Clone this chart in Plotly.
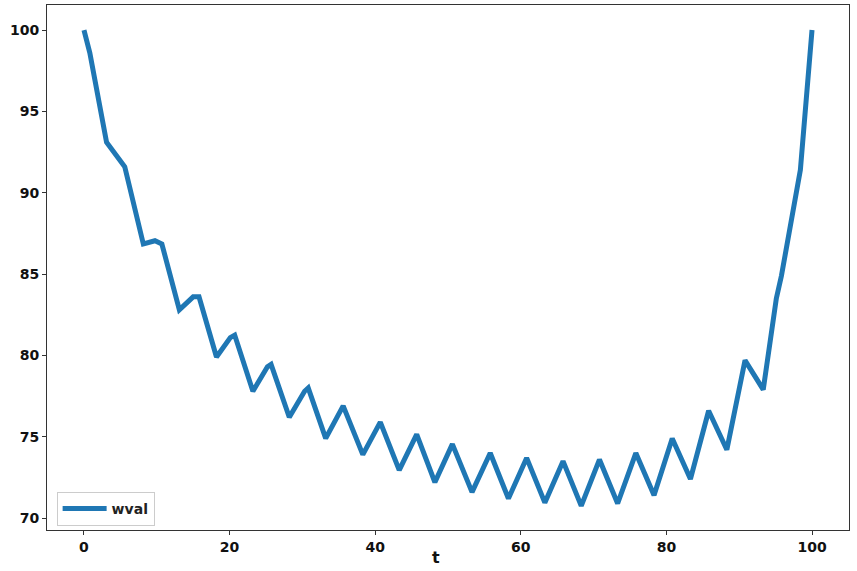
import plotly.graph_objects as go

t = [0, 0.8, 3.1, 5.6, 8.15, 9.75, 10.7, 13.1, 15.0, 15.8, 18.2, 20.1, 20.7,
     23.2, 25.2, 25.7, 28.2, 30.3, 30.8, 33.2, 35.6, 38.3, 40.7, 43.3, 45.7,
     48.2, 50.6, 53.3, 55.8, 58.3, 60.8, 63.3, 65.8, 68.3, 70.8, 73.3, 75.8,
     78.3, 80.8, 83.3, 85.8, 88.3, 90.8, 93.3, 95.1, 95.8, 98.4, 100]
wval = [100, 98.6, 93.1, 91.6, 86.85, 87.05, 86.85, 82.8, 83.6, 83.6, 79.9, 81.1, 81.25,
        77.8, 79.3, 79.45, 76.2, 77.8, 78.0, 74.9, 76.9, 73.9, 75.9, 72.95, 75.15,
        72.2, 74.55, 71.6, 74.0, 71.2, 73.7, 70.95, 73.5, 70.75, 73.6, 70.9, 74.0,
        71.4, 74.9, 72.4, 76.6, 74.2, 79.7, 77.9, 83.5, 84.9, 91.4, 100]

x_ticks = [0, 20, 40, 60, 80, 100]
y_ticks = [70, 75, 80, 85, 90, 95, 100]
x_label = "t"

font_family = "DejaVu Sans"

fig = go.Figure()
fig.add_trace(go.Scatter(x=t, y=wval, mode="lines", name="wval",
                         line=dict(color="#1f77b4", width=5)))

fig.update_layout(
    width=857, height=571,
    margin=dict(l=47, r=8, t=5, b=41, autoexpand=False),
    paper_bgcolor="white", plot_bgcolor="white",
    font=dict(family=font_family, size=14, color="black"),
    showlegend=True,
    legend=dict(x=0.012, y=0.008, xanchor="left", yanchor="bottom",
                bgcolor="rgba(255,255,255,0.8)", bordercolor="#cccccc", borderwidth=1,
                font=dict(family=font_family, size=14, color="#222", weight="bold"),
                itemwidth=44, tracegroupgap=0),
    annotations=[dict(text=x_label, xref="paper", yref="paper", x=0.5, y=0,
                      xanchor="center", yanchor="middle", xshift=-12, yshift=-27,
                      showarrow=False,
                      font=dict(family=font_family, size=16, color="#111", weight="bold"))],
)
fig.update_xaxes(range=[-5.08, 105.08], tickvals=x_ticks, showgrid=False, zeroline=False,
                 showline=True, linecolor="#333", linewidth=1, mirror=True,
                 ticks="outside", ticklen=4, tickcolor="#333", automargin=False,
                 tickfont=dict(family=font_family, size=14, color="#111", weight="bold"))
fig.update_yaxes(range=[69.27, 101.54], tickvals=y_ticks, showgrid=False, zeroline=False,
                 showline=True, linecolor="#333", linewidth=1, mirror=True,
                 ticks="outside", ticklen=4, tickcolor="#333", automargin=False,
                 tickfont=dict(family=font_family, size=14, color="#111", weight="bold"))

fig.write_html("out.html", config={"displayModeBar": False},
               post_script="document.body.style.margin='0';document.body.style.padding='0';")
